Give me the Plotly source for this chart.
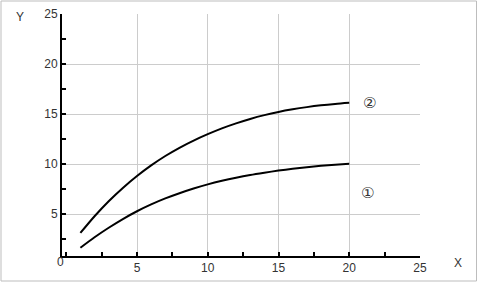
import plotly.graph_objects as go

x_vals = [1, 2, 3, 4, 5, 6, 7, 8, 9, 10, 11, 12, 13, 14, 15, 16, 17, 18, 19, 20]
curve1 = [1.65, 2.7, 3.65, 4.52, 5.3, 5.98, 6.58, 7.1, 7.57, 7.98,
          8.34, 8.65, 8.92, 9.15, 9.36, 9.54, 9.7, 9.84, 9.95, 10.04]
curve2 = [3.13, 4.8, 6.3, 7.63, 8.82, 9.88, 10.82, 11.64, 12.36, 13.0,
          13.58, 14.08, 14.52, 14.9, 15.22, 15.48, 15.7, 15.88, 16.02, 16.13]
tick_vals = [5, 10, 15, 20, 25]
tick_text = ["5", "10", "15", "20", "25"]
curve_labels = ["①", "②"]
label_pos = [(21.3, 7.1), (21.4, 16.1)]

font = dict(family="Liberation Sans, Arial, sans-serif", size=12, color="#333333")

# plot-area pixel box
px0, px1, py0, py1 = 62, 420, 14, 256
def pxx(p):
    return (p - px0) / (px1 - px0)
def pyy(p):
    return (py1 - p) / (py1 - py0)

fig = go.Figure()
for ys in (curve1, curve2):
    fig.add_trace(go.Scatter(x=x_vals, y=ys, mode="lines",
                             line=dict(color="black", width=2, shape="spline", smoothing=0.8),
                             showlegend=False, hoverinfo="skip"))

for txt, (lx, ly) in zip(curve_labels, label_pos):
    fig.add_annotation(x=lx, y=ly, xref="x", yref="y", text=txt, showarrow=False,
                       font=dict(family="DejaVu Sans, sans-serif", size=15, color="#333333"))

fig.add_annotation(x=0, y=0.83, xref="x", yref="y", text="0", showarrow=False,
                   xanchor="center", yanchor="top", xshift=-6, yshift=3, font=font)
fig.add_annotation(x=pxx(20), y=pyy(17), xref="paper", yref="paper", text="Y",
                   xanchor="center", yanchor="middle", showarrow=False, font=font)
fig.add_annotation(x=pxx(458), y=pyy(263), xref="paper", yref="paper", text="X",
                   xanchor="center", yanchor="middle", showarrow=False, font=font)

# outer gray frame
fig.add_shape(type="rect", xref="paper", yref="paper",
              x0=pxx(1), x1=pxx(476.5), y0=pyy(281), y1=pyy(1),
              line=dict(color="#bdbdbd", width=1), layer="below")

axis_common = dict(showgrid=True, gridcolor="#cccccc", gridwidth=1, zeroline=False,
                   showline=True, linecolor="black", linewidth=2,
                   ticks="inside", ticklen=4, tickwidth=1.5, tickcolor="black",
                   tickvals=tick_vals, ticktext=tick_text, tickfont=font,
                   minor=dict(ticks="inside", ticklen=4, tickwidth=1.5, tickcolor="black",
                              dtick=2.5, tick0=0, showgrid=False),
                   automargin=False, fixedrange=True)

fig.update_xaxes(range=[-0.3, 25], **axis_common)
fig.update_yaxes(range=[0.83, 25], ticklabelstandoff=0, **axis_common)

fig.update_layout(width=480, height=282,
                  margin=dict(l=62, r=60, t=14, b=26),
                  paper_bgcolor="white", plot_bgcolor="white",
                  font=font, showlegend=False)

fig.write_html("out.html")
